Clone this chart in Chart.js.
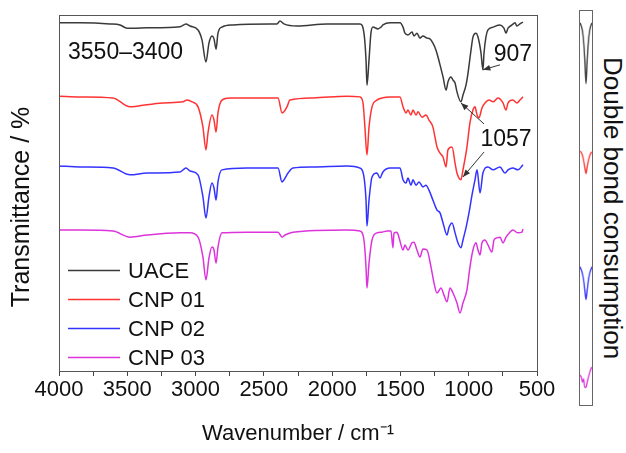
<!DOCTYPE html>
<html>
<head>
<meta charset="utf-8">
<title>FTIR spectra</title>
<script src="https://cdn.jsdelivr.net/npm/chart.js@4.4.0/dist/chart.umd.min.js"></script>
<style>
  html, body { margin: 0; padding: 0; background: #fff; }
  body { position: relative; width: 626px; height: 453px; overflow: hidden; }
  #spectra { position: absolute; left: 0; top: 0; }
  #doubleBond { position: absolute; left: 579px; top: 10px; border: 1px solid #666; }
  #sideTitle { position: absolute; left: 599px; top: 9px; width: 27px; height: 398px;
    writing-mode: vertical-rl; text-align: center; white-space: nowrap;
    font: 26px/27px "Liberation Sans", Arial, sans-serif; color: #111; }
</style>
</head>
<body>
<canvas id="spectra" width="570" height="453"></canvas>
<canvas id="doubleBond" width="14" height="396"></canvas>
<div id="sideTitle">Double bond consumption</div>
<script>
Chart.defaults.font.family = "'Liberation Sans', Arial, sans-serif";
Chart.defaults.color = '#111';

const seriesNames = ['UACE', 'CNP 01', 'CNP 02', 'CNP 03'];
const seriesColors = ['#3a3a3a', '#ff3333', '#3333ff', '#dd33dd'];
const xTickValues = [4000, 3500, 3000, 2500, 2000, 1500, 1000, 500];

// spectra, offset transmittance (arbitrary units), wavenumber in cm-1
const uaceWavenumber = [4000, 3846, 3627, 3553, 3502, 3458, 3356, 3114, 3070, 3041,
  2982, 2953, 2924, 2902, 2880, 2865, 2850, 2836, 2807, 2726,
  2455, 2404, 2382, 2353, 2257, 2038, 1796, 1767, 1752, 1745,
  1730, 1716, 1701, 1664, 1642, 1628, 1576, 1503, 1481, 1467,
  1445, 1415, 1401, 1379, 1357, 1335, 1306, 1284, 1262, 1240,
  1225, 1210, 1188, 1166, 1152, 1130, 1115, 1100, 1086, 1057,
  1042, 1020, 1005, 983, 969, 947, 932, 910, 896, 888,
  874, 859, 822, 771, 742, 727, 712, 683, 661, 647,
  625, 603];
const uaceTransmittance = [97.8, 97.8, 97.5, 97.2, 96.3, 96.3, 96.4, 96.7, 97.5, 96.9,
  95.8, 93.0, 86.8, 92.1, 94.1, 93.3, 90.4, 94.9, 96.6, 97.2,
  97.5, 97.5, 98.3, 97.5, 96.9, 97.5, 97.5, 94.9, 87.4, 80.3,
  87.4, 94.9, 96.6, 96.1, 96.6, 97.2, 97.8, 97.8, 96.6, 94.9,
  94.4, 95.2, 94.1, 94.9, 93.5, 94.1, 93.5, 93.3, 92.1, 90.2,
  88.2, 86.0, 82.6, 78.9, 81.2, 82.6, 81.7, 80.9, 78.4, 75.6,
  77.5, 80.3, 83.7, 90.2, 93.8, 94.9, 93.8, 89.3, 84.6, 89.3,
  93.8, 95.8, 96.6, 97.2, 96.3, 94.9, 96.3, 97.2, 97.8, 96.9,
  97.5, 98.0];

const cnp01Wavenumber = [4000, 3846, 3605, 3480, 3429, 3239, 3092, 3063, 3026, 2982,
  2946, 2924, 2909, 2880, 2865, 2850, 2836, 2807, 2748, 2396,
  2367, 2353, 2331, 2309, 2140, 1891, 1796, 1774, 1760, 1745,
  1730, 1708, 1672, 1635, 1576, 1503, 1481, 1459, 1445, 1423,
  1408, 1386, 1371, 1342, 1313, 1291, 1262, 1247, 1232, 1210,
  1188, 1166, 1152, 1122, 1100, 1086, 1057, 1042, 1013, 991,
  969, 954, 939, 925, 903, 881, 851, 822, 786, 749,
  727, 712, 676, 647, 625, 603];
const cnp01Transmittance = [77.2, 77.0, 76.7, 74.2, 74.4, 75.3, 75.6, 76.1, 75.6, 74.2,
  68.5, 62.1, 66.9, 71.9, 70.5, 67.1, 72.5, 76.1, 76.7, 76.7,
  72.5, 72.8, 74.2, 76.1, 76.7, 77.2, 77.0, 75.3, 68.5, 60.7,
  68.5, 74.2, 76.1, 76.7, 77.0, 77.0, 74.2, 72.5, 73.3, 71.9,
  73.3, 71.9, 72.8, 71.3, 71.9, 70.5, 68.5, 65.7, 62.9, 61.2,
  60.1, 57.3, 62.1, 62.9, 58.4, 55.6, 53.7, 56.5, 62.9, 69.7,
  73.3, 74.2, 71.9, 71.1, 73.9, 75.3, 76.1, 75.6, 76.7, 75.3,
  73.3, 75.3, 76.1, 75.3, 76.1, 77.0];

const cnp02Wavenumber = [4000, 3846, 3605, 3480, 3356, 3114, 3070, 3041, 2982, 2946,
  2924, 2902, 2880, 2865, 2850, 2836, 2807, 2623, 2396, 2367,
  2353, 2323, 2287, 2140, 1891, 1796, 1767, 1752, 1745, 1730,
  1708, 1672, 1650, 1628, 1576, 1503, 1481, 1459, 1445, 1423,
  1408, 1386, 1364, 1335, 1313, 1291, 1262, 1232, 1210, 1188,
  1159, 1144, 1122, 1100, 1079, 1057, 1042, 1020, 998, 976,
  954, 939, 917, 896, 859, 822, 771, 734, 712, 676,
  639, 603];
const cnp02Transmittance = [57.6, 57.3, 57.0, 55.1, 55.6, 55.9, 57.0, 56.2, 55.1, 48.9,
  43.0, 48.9, 52.8, 51.4, 48.0, 53.1, 56.5, 57.0, 57.0, 53.1,
  53.7, 55.6, 57.0, 57.3, 57.6, 57.0, 54.5, 48.0, 40.7, 48.0,
  54.5, 55.6, 54.2, 55.9, 57.0, 57.0, 53.7, 52.8, 54.2, 52.2,
  53.7, 52.2, 53.1, 51.7, 52.2, 50.8, 48.0, 45.2, 44.4, 41.6,
  38.2, 40.4, 41.6, 38.8, 36.0, 34.6, 36.8, 40.2, 44.4, 49.4,
  53.7, 56.5, 50.0, 55.6, 57.3, 56.5, 57.3, 55.6, 56.5, 57.0,
  56.5, 57.9];

const cnp03Wavenumber = [4000, 3846, 3605, 3480, 3356, 3114, 3041, 2982, 2946, 2924,
  2902, 2880, 2865, 2850, 2836, 2807, 2623, 2396, 2367, 2345,
  2287, 1891, 1796, 1767, 1752, 1745, 1730, 1708, 1672, 1635,
  1598, 1569, 1555, 1547, 1525, 1511, 1481, 1467, 1445, 1415,
  1401, 1379, 1357, 1335, 1306, 1276, 1254, 1232, 1203, 1181,
  1159, 1137, 1115, 1086, 1064, 1042, 1013, 991, 969, 947,
  932, 917, 903, 881, 859, 830, 815, 793, 771, 749,
  727, 698, 676, 639, 610, 603];
const cnp03Transmittance = [39.6, 39.6, 39.3, 37.6, 38.2, 38.8, 38.8, 37.6, 32.0, 25.6,
  31.7, 34.8, 34.0, 30.3, 34.8, 38.8, 39.0, 39.0, 37.6, 38.2,
  39.0, 39.6, 39.3, 36.8, 29.2, 23.3, 30.3, 36.8, 38.8, 39.0,
  39.3, 39.3, 34.6, 38.8, 39.0, 37.6, 34.0, 35.4, 34.0, 36.0,
  36.2, 34.0, 32.0, 34.3, 34.0, 29.2, 24.7, 21.9, 23.3, 21.3,
  19.4, 23.3, 21.9, 19.1, 16.3, 19.1, 22.8, 29.2, 34.0, 36.0,
  34.0, 32.6, 36.0, 36.8, 35.4, 33.4, 36.8, 37.4, 37.6, 36.0,
  37.6, 39.0, 39.6, 38.8, 39.0, 39.9];

// side panel: C=C band, stacked
const panelWavenumber = [1650, 1647, 1644, 1641, 1638, 1635, 1632, 1629, 1626, 1623, 1620];
const panelUace = [97.0, 96.2, 94.9, 92.4, 87.9, 81.6, 87.9, 92.4, 94.9, 96.2, 97.0];
const panelCnp01 = [64.4, 64.1, 63.4, 62.1, 60.4, 58.8, 60.6, 62.1, 63.1, 63.9, 64.1];
const panelCnp02 = [35.1, 34.3, 33.3, 31.8, 29.3, 26.8, 29.3, 31.8, 33.3, 34.3, 35.1];
const panelCnp03 = [7.6, 7.1, 5.8, 6.6, 4.5, 4.5, 5.8, 7.1, 8.1, 9.1, 9.6];

const notes = [
  { text: '3550–3400', wn: 3934, t: 89.3, align: 'left' },
  { text: '907', wn: 676, t: 88.8, align: 'center' },
  { text: '1057', wn: 727, t: 64.9, align: 'center' }
];
const arrows = [
  { from: [771, 86.0], to: [896, 84.6] },
  { from: [888, 69.4], to: [1057, 75.3] },
  { from: [888, 61.5], to: [1042, 54.5] }
];

const toPoints = (xs, ys) => xs.map((x, i) => ({ x: x, y: ys[i] }));

const mainSeries = [
  toPoints(uaceWavenumber, uaceTransmittance),
  toPoints(cnp01Wavenumber, cnp01Transmittance),
  toPoints(cnp02Wavenumber, cnp02Transmittance),
  toPoints(cnp03Wavenumber, cnp03Transmittance)
];
const panelSeries = [panelUace, panelCnp01, panelCnp02, panelCnp03].map(v => toPoints(panelWavenumber, v));

const lineStyle = (data, i) => ({
  label: seriesNames[i],
  data: data,
  borderColor: seriesColors[i],
  borderWidth: 1.5,
  pointRadius: 0,
  tension: 0.3,
  cubicInterpolationMode: 'monotone',
  fill: false
});

function drawArrow(ctx, x1, y1, x2, y2) {
  const ang = Math.atan2(y2 - y1, x2 - x1);
  ctx.beginPath();
  ctx.moveTo(x1, y1);
  ctx.lineTo(x2, y2);
  ctx.stroke();
  ctx.beginPath();
  ctx.moveTo(x2, y2);
  ctx.lineTo(x2 - 8 * Math.cos(ang - 0.38), y2 - 8 * Math.sin(ang - 0.38));
  ctx.lineTo(x2 - 8 * Math.cos(ang + 0.38), y2 - 8 * Math.sin(ang + 0.38));
  ctx.closePath();
  ctx.fill();
}

// frame, y title, legend and peak labels
const frameAndNotes = {
  id: 'frameAndNotes',
  afterDraw(chart) {
    const { ctx, chartArea: a, scales: { x, y } } = chart;
    const fam = "'Liberation Sans', Arial, sans-serif";
    ctx.save();
    ctx.strokeStyle = '#555';
    ctx.lineWidth = 1;
    ctx.strokeRect(Math.round(a.left) + 0.5, Math.round(a.top) + 0.5,
      Math.round(a.right - a.left), Math.round(a.bottom - a.top));

    ctx.fillStyle = '#111';
    ctx.font = '25px ' + fam;
    ctx.textAlign = 'center';
    ctx.textBaseline = 'middle';
    ctx.save();
    ctx.translate(a.left - 37, (a.top + a.bottom) / 2 + 14);
    ctx.rotate(-Math.PI / 2);
    ctx.fillText('Transmittance / %', 0, 0);
    ctx.restore();

    ctx.font = '22px ' + fam;
    ctx.textAlign = 'left';
    chart.data.datasets.forEach((ds, i) => {
      const ly = Math.round(a.top + 255 + i * 29) + 0.5;
      ctx.strokeStyle = ds.borderColor;
      ctx.lineWidth = 1.5;
      ctx.beginPath();
      ctx.moveTo(a.left + 9, ly);
      ctx.lineTo(a.left + 61, ly);
      ctx.stroke();
      ctx.fillText(ds.label, a.left + 69, ly + 1);
    });

    ctx.font = '23px ' + fam;
    notes.forEach(n => {
      ctx.textAlign = n.align;
      ctx.fillText(n.text, x.getPixelForValue(n.wn), y.getPixelForValue(n.t));
    });

    ctx.strokeStyle = '#333';
    ctx.fillStyle = '#333';
    ctx.lineWidth = 1;
    arrows.forEach(ar => {
      drawArrow(ctx,
        x.getPixelForValue(ar.from[0]), y.getPixelForValue(ar.from[1]),
        x.getPixelForValue(ar.to[0]), y.getPixelForValue(ar.to[1]));
    });
    ctx.restore();
  }
};

new Chart(document.getElementById('spectra'), {
  type: 'line',
  data: { datasets: mainSeries.map(lineStyle) },
  options: {
    responsive: false,
    animation: false,
    layout: { padding: { left: 0, right: 33, top: 15, bottom: 0 } },
    plugins: { legend: { display: false }, tooltip: { enabled: false } },
    scales: {
      x: {
        type: 'linear',
        min: 500,
        max: 4000,
        reverse: true,
        afterFit: s => { s.height = 82; },
        border: { display: false },
        grid: { drawOnChartArea: false, drawTicks: true, tickLength: 5, color: '#444' },
        ticks: {
          stepSize: 250,
          autoSkip: false,
          maxRotation: 0,
          padding: 1,
          font: { size: 22 },
          color: '#111',
          callback: v => xTickValues.includes(v) ? String(v) : ''
        },
        title: {
          display: true,
          text: 'Wavenumber / cm⁻¹',
          font: { size: 22 },
          color: '#111',
          padding: { top: 0, bottom: 6 }
        }
      },
      y: {
        min: 0,
        max: 100,
        afterFit: s => { s.width = 59; },
        border: { display: false },
        grid: { display: false, drawTicks: false },
        ticks: { display: false }
      }
    }
  },
  plugins: [frameAndNotes]
});

new Chart(document.getElementById('doubleBond'), {
  type: 'line',
  data: { datasets: panelSeries.map(lineStyle) },
  options: {
    responsive: false,
    animation: false,
    layout: { padding: 0 },
    plugins: { legend: { display: false }, tooltip: { enabled: false } },
    scales: {
      x: { type: 'linear', min: 1620, max: 1650, reverse: true, display: false },
      y: { min: 0, max: 100, display: false }
    }
  }
});
</script>
</body>
</html>
